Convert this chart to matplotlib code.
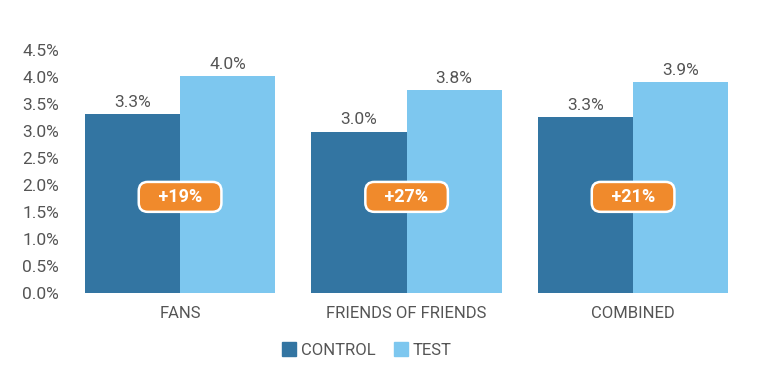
#!/usr/bin/env python3
"""
Grouped bar chart: control vs test conversion rate, with lift badges
"""

import matplotlib.pyplot as plt
from matplotlib.patches import Patch
import numpy as np

plt.rcParams['font.family'] = ['Roboto', 'DejaVu Sans']

categories = ['FANS', 'FRIENDS OF FRIENDS', 'COMBINED']
series_names = ['CONTROL', 'TEST']
control = [3.31, 2.99, 3.26]
test = [4.01, 3.76, 3.91]
lifts = ['+19%', '+27%', '+21%']
yticks = [0.0, 0.5, 1.0, 1.5, 2.0, 2.5, 3.0, 3.5, 4.0, 4.5]

C_CONTROL = '#3375A2'
C_TEST = '#7DC7EF'
C_BADGE = '#F08A2C'
C_TEXT = '#555555'


def main():
    W, H = 769, 372
    fig = plt.figure(figsize=(W / 100, H / 100), dpi=100)
    # axes placed in pixels: left 70, right 745, bottom 293, top 50
    ax = fig.add_axes([70 / W, (H - 293) / H, 675 / W, 243 / H])

    x = np.arange(len(categories))
    width = 0.42

    ax.bar(x - width / 2, control, width, color=C_CONTROL, label=series_names[0])
    ax.bar(x + width / 2, test, width, color=C_TEST, label=series_names[1])

    for xi, c, t, lift in zip(x, control, test, lifts):
        ax.text(xi - width / 2, c + 0.08, f'{c:.1f}%', ha='center', va='bottom',
                fontsize=12.5, color=C_TEXT)
        ax.text(xi + width / 2, t + 0.08, f'{t:.1f}%', ha='center', va='bottom',
                fontsize=12.5, color=C_TEXT)
        ax.text(xi, 1.78, f'   {lift}   ', ha='center', va='center',
                fontsize=13, fontweight='bold', color='white',
                bbox=dict(boxstyle='round,pad=0.33,rounding_size=0.5',
                          fc=C_BADGE, ec='white', lw=1.8))

    ax.set_xlim(-0.486, 2.494)
    ax.set_ylim(0, 4.5)
    ax.set_yticks(yticks)
    ax.set_yticklabels([f'{v:.1f}%' for v in yticks])
    ax.set_xticks(x)
    ax.set_xticklabels(categories)
    ax.tick_params(axis='y', length=0, pad=8, labelsize=12.5, labelcolor=C_TEXT)
    ax.tick_params(axis='x', length=0, pad=9, labelsize=12, labelcolor=C_TEXT)
    for s in ax.spines.values():
        s.set_visible(False)

    handles = [Patch(color=C_CONTROL), Patch(color=C_TEST)]
    leg = fig.legend(handles, series_names, loc='center', ncol=2,
                     bbox_to_anchor=(0.477, (H - 350) / H), frameon=False,
                     handlelength=0.85, handleheight=0.85, handletextpad=0.3,
                     columnspacing=1.1, fontsize=12)
    for t in leg.get_texts():
        t.set_color(C_TEXT)

    fig.savefig('out.png', dpi=100)


if __name__ == '__main__':
    main()
